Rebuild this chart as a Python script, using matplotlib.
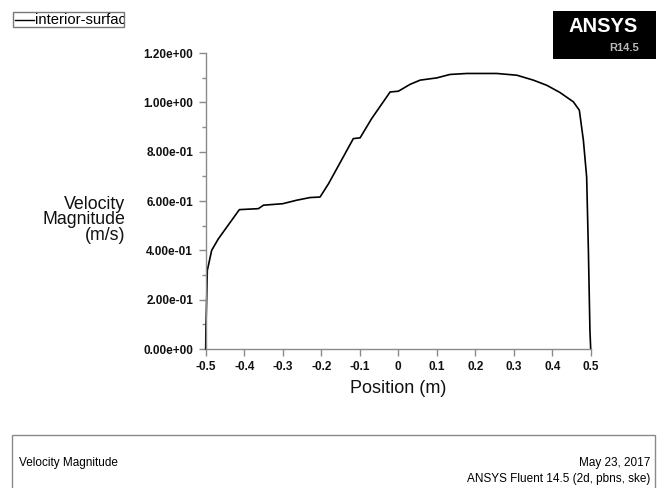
import matplotlib
matplotlib.use("Agg")
import matplotlib.pyplot as plt
from matplotlib.patches import Rectangle
from matplotlib.lines import Line2D

plt.rcParams['font.family'] = ['Liberation Sans', 'DejaVu Sans']

# velocity magnitude along interior surface
position = [-0.5, -0.4995, -0.4975, -0.4958, -0.4845, -0.467, -0.4126, -0.363, -0.350,
            -0.300, -0.264, -0.229, -0.203, -0.181, -0.1165, -0.099, -0.069, -0.021,
            0.0003, 0.031, 0.057, 0.100, 0.1345, 0.178, 0.256, 0.308, 0.351, 0.386,
            0.420, 0.455, 0.4705, 0.481, 0.4895, 0.494, 0.498, 0.5]
velocity = [0.0, 0.08, 0.2, 0.319, 0.400, 0.447, 0.565, 0.569, 0.583,
            0.589, 0.603, 0.614, 0.616, 0.670, 0.853, 0.856, 0.934, 1.042,
            1.045, 1.073, 1.090, 1.099, 1.113, 1.117, 1.117, 1.110, 1.090, 1.069,
            1.040, 1.002, 0.968, 0.846, 0.697, 0.400, 0.075, 0.0]

xticks = [-0.5, -0.4, -0.3, -0.2, -0.1, 0, 0.1, 0.2, 0.3, 0.4, 0.5]
xticklabels = ['-0.5', '-0.4', '-0.3', '-0.2', '-0.1', '0', '0.1', '0.2', '0.3', '0.4', '0.5']
yticks = [0.0, 0.2, 0.4, 0.6, 0.8, 1.0, 1.2]
yticklabels = ['0.00e+00', '2.00e-01', '4.00e-01', '6.00e-01', '8.00e-01', '1.00e+00', '1.20e+00']
yminor = [0.1, 0.3, 0.5, 0.7, 0.9, 1.1]

W, H = 665, 488
fig = plt.figure(figsize=(W / 100, H / 100), dpi=100)
ax = fig.add_axes([205.7 / W, (H - 349) / H, 385 / W, 296 / H])

ax.plot(position, velocity, color='black', lw=1.2, clip_on=False)
ax.set_xlim(-0.5, 0.5)
ax.set_ylim(0, 1.2)

for s in ['top', 'right']:
    ax.spines[s].set_visible(False)
for s in ['left', 'bottom']:
    ax.spines[s].set_color('#8a8a8a')
    ax.spines[s].set_linewidth(1.0)

ax.set_xticks(xticks)
ax.set_xticklabels(xticklabels)
ax.set_yticks(yticks)
ax.set_yticklabels(yticklabels)
ax.set_yticks(yminor, minor=True)
ax.tick_params(axis='both', which='major', length=5, width=1, color='#8a8a8a',
               labelsize=8.5, labelcolor='#111111', pad=4)
ax.tick_params(axis='y', which='minor', length=3, width=1, color='#8a8a8a')
for lab in ax.get_xticklabels() + ax.get_yticklabels():
    lab.set_fontweight('bold')

ax.set_xlabel('Position (m)', fontsize=13, labelpad=5, color='#111111')
fig.text(125 / W, (H - 220) / H, 'Velocity\nMagnitude\n(m/s)', ha='right', va='center',
         fontsize=12.8, linespacing=0.86, color='#111111')

# legend box, top-left, text clipped by the frame
leg_box = Rectangle((13 / W, (H - 27) / H), 111 / W, 15 / H, transform=fig.transFigure,
                    facecolor='white', edgecolor='#777777', lw=1.0)
fig.add_artist(leg_box)
fig.add_artist(Line2D([15 / W, 34 / W], [(H - 19.5) / H] * 2, transform=fig.transFigure,
                      color='black', lw=1.0))
t = fig.text(35 / W, (H - 19.5) / H, 'interior-surface', ha='left', va='center', fontsize=10.6)
t.set_clip_path(leg_box)

# ANSYS logo
fig.add_artist(Rectangle((553 / W, (H - 59) / H), 103 / W, 48 / H, transform=fig.transFigure,
                         facecolor='black', edgecolor='none'))
fig.text(603 / W, (H - 27) / H, 'ANSYS', ha='center', va='center', fontsize=14.5,
         fontweight='bold', color='white')
fig.text(639 / W, (H - 48) / H, 'R14.5', ha='right', va='center', fontsize=8,
         fontweight='bold', color='#bbbbbb')

# bottom info box
fig.add_artist(Rectangle((12 / W, -10 / H), 643 / W, (H - 435 + 10) / H,
                         transform=fig.transFigure, facecolor='none',
                         edgecolor='#8a8a8a', lw=1.0))
fig.text(19 / W, (H - 463) / H, 'Velocity Magnitude', ha='left', va='center', fontsize=8.5)
fig.text(650 / W, (H - 463) / H, 'May 23, 2017', ha='right', va='center', fontsize=8.5)
fig.text(650 / W, (H - 479) / H, 'ANSYS Fluent 14.5 (2d, pbns, ske)', ha='right',
         va='center', fontsize=8.5)

fig.savefig('out.png', dpi=100)
